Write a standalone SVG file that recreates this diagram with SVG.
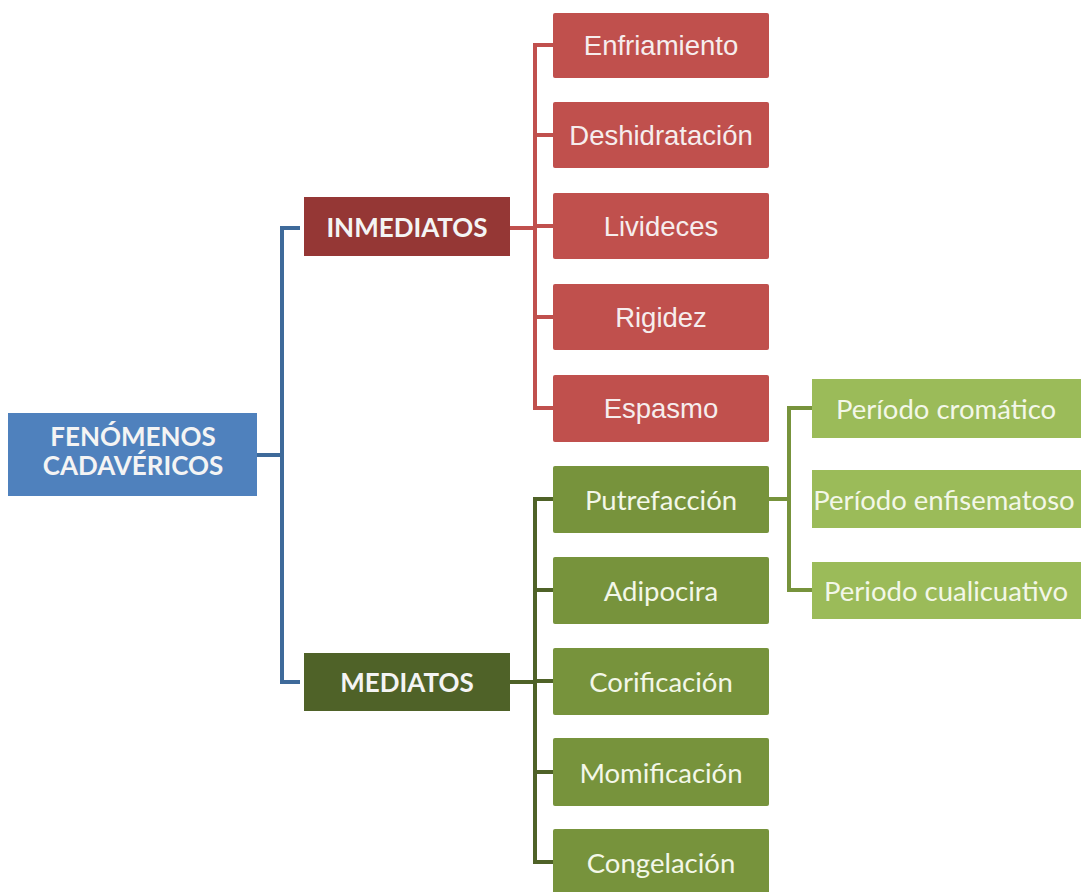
<svg xmlns="http://www.w3.org/2000/svg" width="1081" height="892" viewBox="0 0 1081 892">
<style>
.bx{stroke:none}
.root{fill:#4F81BD}
.inm{fill:#953735}
.med{fill:#4F6228}
.red{fill:#C0504D}
.grn{fill:#77933C}
.lgr{fill:#9BBB59}
.tb{font-family:Lato,"Open Sans",sans-serif;font-weight:bold;font-size:26px;fill:#F4F4F4;text-anchor:middle;dominant-baseline:central}
.tr{font-family:"Liberation Sans",Arial,sans-serif;font-size:27.5px;fill:#F6EDED;text-anchor:middle;dominant-baseline:central}
.tg{font-family:Lato,"Open Sans",sans-serif;font-size:27.5px;fill:#F3F7E8;text-anchor:middle;dominant-baseline:central}
.c{fill:none;stroke-width:4}
</style>
<g id="connectors">
<path class="c" stroke="#3E6A9A" d="M257 455H282M300 228H282V682H300"/>
<path class="c" stroke="#C0504D" d="M510 228H535M553 45H535V408H553M535 135H553M535 226H553M535 317H553"/>
<path class="c" stroke="#4F6228" d="M510 682H535M553 499H535V862H553M535 590H553M535 681H553M535 772H553"/>
<path class="c" stroke="#77933C" d="M769 499H789M812 408H789V590H812"/>
</g>
<g id="root"><rect class="bx root" x="8" y="413" width="249" height="83"/><text class="tb" x="133" y="436">FENÓMENOS</text><text class="tb" x="133" y="465">CADAVÉRICOS</text></g>
<g id="inmediatos"><rect class="bx inm" x="304" y="197" width="206" height="59"/><text class="tb" x="407" y="227">INMEDIATOS</text></g>
<g id="mediatos"><rect class="bx med" x="304" y="653" width="206" height="58"/><text class="tb" x="407" y="682">MEDIATOS</text></g>
<g id="enfriamiento"><rect class="bx red" x="553" y="13" width="216" height="65" rx="2"/><text class="tr" x="661" y="45">Enfriamiento</text></g>
<g id="deshidratacion"><rect class="bx red" x="553" y="102" width="216" height="66" rx="2"/><text class="tr" x="661" y="135">Deshidratación</text></g>
<g id="livideces"><rect class="bx red" x="553" y="193" width="216" height="66" rx="2"/><text class="tr" x="661" y="226">Livideces</text></g>
<g id="rigidez"><rect class="bx red" x="553" y="284" width="216" height="66" rx="2"/><text class="tr" x="661" y="317" font-size="30">Rigidez</text></g>
<g id="espasmo"><rect class="bx red" x="553" y="375" width="216" height="67" rx="2"/><text class="tr" x="661" y="408">Espasmo</text></g>
<g id="putrefaccion"><rect class="bx grn" x="553" y="466" width="216" height="67" rx="2"/><text class="tg" x="661" y="499">Putrefacción</text></g>
<g id="adipocira"><rect class="bx grn" x="553" y="557" width="216" height="67" rx="2"/><text class="tg" x="661" y="590">Adipocira</text></g>
<g id="corificacion"><rect class="bx grn" x="553" y="648" width="216" height="67" rx="2"/><text class="tg" x="661" y="681">Corificación</text></g>
<g id="momificacion"><rect class="bx grn" x="553" y="738" width="216" height="68" rx="2"/><text class="tg" x="661" y="772">Momificación</text></g>
<g id="congelacion"><rect class="bx grn" x="553" y="829" width="216" height="68" rx="2"/><text class="tg" x="661" y="862">Congelación</text></g>
<g id="cromatico"><rect class="bx lgr" x="812" y="379" width="275" height="59"/><text class="tg" x="946" y="408">Período cromático</text></g>
<g id="enfisematoso"><rect class="bx lgr" x="812" y="470" width="275" height="58"/><text class="tg" x="944" y="499">Período enfisematoso</text></g>
<g id="cualicuativo"><rect class="bx lgr" x="812" y="562" width="275" height="57"/><text class="tg" x="946" y="590">Periodo cualicuativo</text></g>
</svg>
